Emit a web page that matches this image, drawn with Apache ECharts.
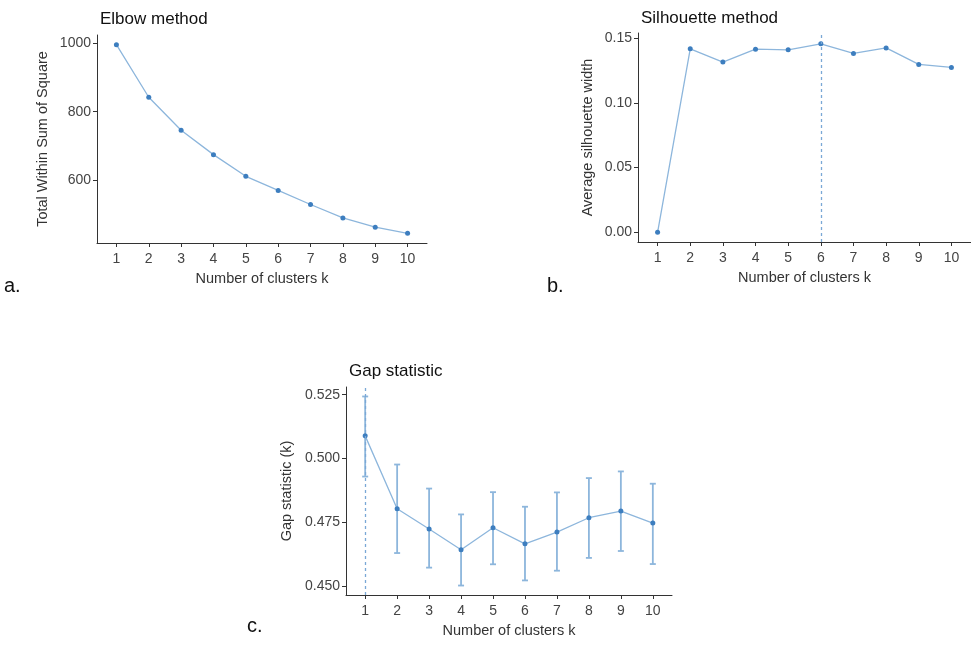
<!DOCTYPE html>
<html>
<head>
<meta charset="utf-8">
<script src="https://cdn.jsdelivr.net/npm/echarts@6/dist/echarts.min.js"></script>
<style>
  html, body { margin: 0; padding: 0; background: #fff; }
  #main { width: 971px; height: 649px; }
</style>
</head>
<body>
<div id="main"></div>
<script>
// cluster counts shared by all three panels
const clusters = [1, 2, 3, 4, 5, 6, 7, 8, 9, 10];

// a. elbow
const wss = [995, 842, 746, 675, 612, 571, 530, 491, 464, 446];
const wssTicks = [600, 800, 1000];

// b. silhouette
const silhouette = [0, 0.1418, 0.1315, 0.1415, 0.141, 0.1456, 0.1382, 0.1425, 0.1297, 0.1274];
const silTicks = [0, 0.05, 0.1, 0.15];
const silBest = 6;

// c. gap statistic with error bars
const gap = [0.5089, 0.4804, 0.4725, 0.4644, 0.473, 0.4667, 0.4713, 0.4769, 0.4795, 0.4748];
const gapLow = [0.493, 0.4631, 0.4574, 0.4504, 0.4587, 0.4524, 0.4562, 0.4612, 0.4639, 0.4588];
const gapHigh = [0.5243, 0.4977, 0.4883, 0.4782, 0.4869, 0.4812, 0.4868, 0.4924, 0.495, 0.4902];
const gapTicks = [0.45, 0.475, 0.5, 0.525];
const gapBest = 1;

const ptColor = '#3d7ebf';
const lnColor = '#8db6dc';
const font = 'Liberation Sans, Arial, sans-serif';

const chart = echarts.init(document.getElementById('main'));

function xAxisFor (gridIndex) {
    return {
        type: 'value', gridIndex, min: 0.4, max: 10.6,
        name: 'Number of clusters k', nameLocation: 'middle', nameGap: 28,
        nameTextStyle: { color: '#333', fontSize: 14.5, fontFamily: font },
        axisLine: { show: true, onZero: false, lineStyle: { color: '#333', width: 1 } },
        axisTick: { show: true, length: 4, customValues: clusters, lineStyle: { color: '#333' } },
        axisLabel: { customValues: clusters, color: '#444', fontSize: 14, fontFamily: font, margin: 9 },
        splitLine: { show: false }
    };
}

function yAxisFor (gridIndex, name, min, max, ticks, gap, fmt) {
    return {
        type: 'value', gridIndex, min, max,
        name, nameLocation: 'middle', nameGap: gap,
        nameTextStyle: { color: '#333', fontSize: 14.5, fontFamily: font },
        axisLine: { show: true, onZero: false, lineStyle: { color: '#333', width: 1 } },
        axisTick: { show: true, length: 4, customValues: ticks, lineStyle: { color: '#333' } },
        axisLabel: { customValues: ticks, color: '#444', fontSize: 14, fontFamily: font, margin: 6, formatter: fmt },
        splitLine: { show: false }
    };
}

function pairs (ys) {
    return clusters.map((k, i) => [k, ys[i]]);
}

function lineSeries (idx, ys, extra) {
    return Object.assign({
        type: 'line', xAxisIndex: idx, yAxisIndex: idx,
        data: pairs(ys),
        symbol: 'circle', symbolSize: 5,
        lineStyle: { color: lnColor, width: 1.3 },
        itemStyle: { color: ptColor },
        z: 3
    }, extra || {});
}

function bestLine (k) {
    return {
        silent: true, symbol: ['none', 'none'], label: { show: false },
        lineStyle: { color: '#7aa8d6', type: [3, 3], width: 1.3 },
        data: [{ xAxis: k }]
    };
}

chart.setOption({
    animation: false,
    title: [
        { text: 'Elbow method', left: 95, top: 6, textStyle: { fontSize: 17, fontWeight: 'normal', color: '#111', fontFamily: font } },
        { text: 'Silhouette method', left: 636, top: 5, textStyle: { fontSize: 17, fontWeight: 'normal', color: '#111', fontFamily: font } },
        { text: 'Gap statistic', left: 344, top: 358, textStyle: { fontSize: 17, fontWeight: 'normal', color: '#111', fontFamily: font } }
    ],
    grid: [
        { left: 97, top: 35, width: 330, height: 208 },
        { left: 638, top: 33, width: 333, height: 209 },
        { left: 346, top: 387, width: 326, height: 208 }
    ],
    xAxis: [xAxisFor(0), xAxisFor(1), xAxisFor(2)],
    yAxis: [
        yAxisFor(0, 'Total Within Sum of Square', 418, 1023, wssTicks, 47, v => String(v)),
        yAxisFor(1, 'Average silhouette width', -0.0075, 0.154, silTicks, 43, v => v.toFixed(2)),
        yAxisFor(2, 'Gap statistic (k)', 0.4467, 0.528, gapTicks, 52, v => v.toFixed(3))
    ],
    series: [
        lineSeries(0, wss),
        lineSeries(1, silhouette, { markLine: bestLine(silBest) }),
        {
            type: 'custom', xAxisIndex: 2, yAxisIndex: 2,
            data: clusters.map((k, i) => [k, gapLow[i], gapHigh[i]]),
            encode: { x: 0, y: [1, 2] },
            z: 2,
            renderItem (params, api) {
                const x = api.value(0);
                const lo = api.coord([x, api.value(1)]);
                const hi = api.coord([x, api.value(2)]);
                const w = 3;
                const style = { stroke: lnColor, lineWidth: 1.8 };
                return {
                    type: 'group',
                    children: [
                        { type: 'line', shape: { x1: lo[0], y1: lo[1], x2: hi[0], y2: hi[1] }, style },
                        { type: 'line', shape: { x1: hi[0] - w, y1: hi[1], x2: hi[0] + w, y2: hi[1] }, style },
                        { type: 'line', shape: { x1: lo[0] - w, y1: lo[1], x2: lo[0] + w, y2: lo[1] }, style }
                    ]
                };
            }
        },
        lineSeries(2, gap, { markLine: bestLine(gapBest) })
    ],
    graphic: [
        { type: 'text', left: 4, top: 276, style: { text: 'a.', fontSize: 20, fill: '#111', fontFamily: font } },
        { type: 'text', left: 547, top: 276, style: { text: 'b.', fontSize: 20, fill: '#111', fontFamily: font } },
        { type: 'text', left: 247, top: 616, style: { text: 'c.', fontSize: 20, fill: '#111', fontFamily: font } }
    ]
});
</script>
</body>
</html>
